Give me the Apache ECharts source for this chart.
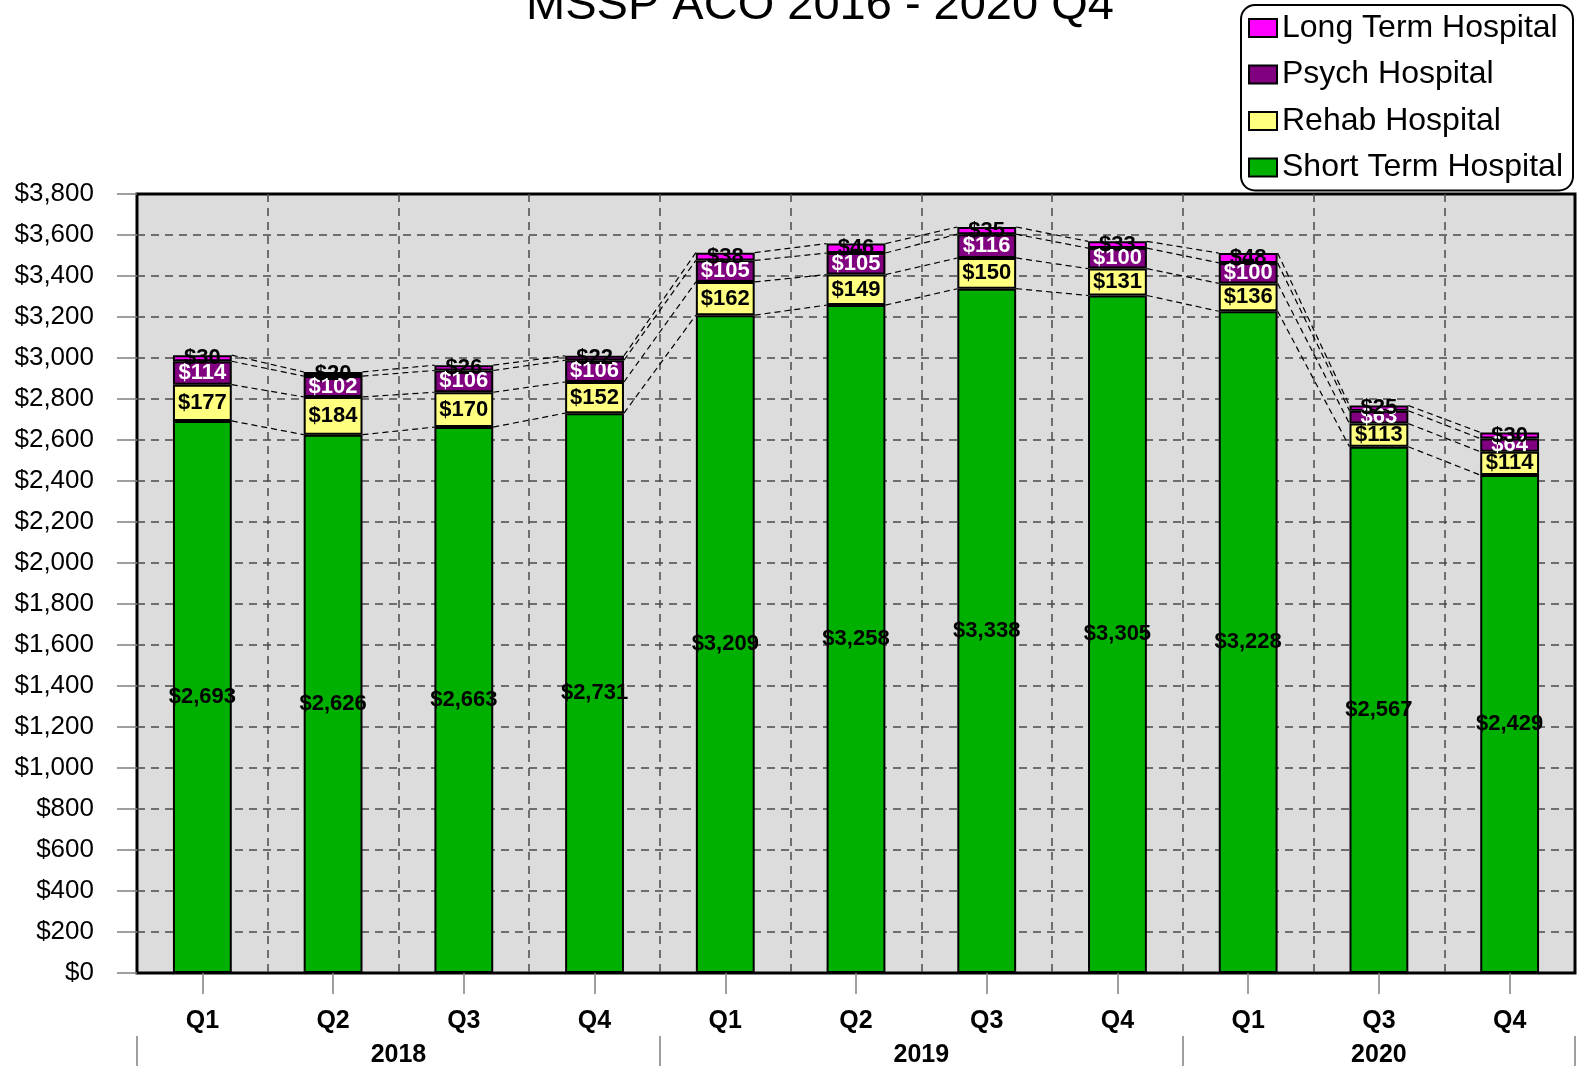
<!DOCTYPE html>
<html lang="en">
<head>
<meta charset="UTF-8">
<title>MSSP ACO 2016 - 2020 Q4</title>
<script src="https://cdn.jsdelivr.net/npm/echarts@6.0.0/dist/echarts.min.js"></script>
<style>html,body{margin:0;padding:0;background:#fff;}</style>
</head>
<body>
<div id="main" style="width:1581px;height:1068px;"></div>
<script>
// quarters on the axis, grouped by year
const quarters = ['Q1', 'Q2', 'Q3', 'Q4', 'Q1', 'Q2', 'Q3', 'Q4', 'Q1', 'Q3', 'Q4'];
const years = ['2018', '2019', '2020'];
const yearSpans = [4, 4, 3];

// dollars per stack segment
const shortTerm = [2693, 2626, 2663, 2731, 3209, 3258, 3338, 3305, 3228, 2567, 2429];
const rehab     = [177, 184, 170, 152, 162, 149, 150, 131, 136, 113, 114];
const psych     = [114, 102, 106, 106, 105, 105, 116, 100, 100, 63, 64];
const longTerm  = [30, 20, 26, 22, 38, 46, 35, 33, 48, 25, 30];

const font = 'Liberation Sans, Arial, sans-serif';
const money = v => '$' + Number(v).toLocaleString('en-US');
const barRatio = 0.45;

// running totals for the dashed connectors
const levels = [];
let run = shortTerm.map(() => 0);
[shortTerm, rehab, psych, longTerm].forEach(arr => {
  run = run.map((r, i) => r + arr[i]);
  levels.push(run.slice());
});

// year axis: ticks on group edges, labels in group middles
const yearEdges = [0];
yearSpans.forEach(s => yearEdges.push(yearEdges[yearEdges.length - 1] + s));
const yearMids = yearSpans.map((s, i) => yearEdges[i] + s / 2);

let myChart = echarts.init(document.getElementById('main'));

const segLabel = (color) => ({
  show: true,
  position: 'inside',
  color: color,
  fontFamily: font,
  fontWeight: 'bold',
  fontSize: 22,
  formatter: p => money(p.value)
});

const barSeries = (name, data, color, labelColor) => ({
  name: name,
  type: 'bar',
  stack: 'total',
  barWidth: (barRatio * 100) + '%',
  data: data,
  itemStyle: { color: color, borderColor: '#000', borderWidth: 2 },
  label: segLabel(labelColor)
});

const gridDash = { color: '#4a4a4a', width: 1.5, type: [8, 6] };

let options = {
  animation: false,
  title: {
    text: 'MSSP ACO 2016 - 2020 Q4',
    left: 815,
    top: -22,
    textAlign: 'center',
    textStyle: { fontFamily: font, fontWeight: 'normal', fontSize: 47, color: '#000' }
  },
  legend: {
    data: ['Long Term Hospital', 'Psych Hospital', 'Rehab Hospital', 'Short Term Hospital'],
    orient: 'vertical',
    left: 1241,
    top: 5,
    padding: [7, 10, 7, 7],
    itemGap: 14.5,
    itemWidth: 28,
    itemHeight: 18,
    icon: 'rect',
    selectedMode: false,
    backgroundColor: '#fff',
    borderColor: '#000',
    borderWidth: 2,
    borderRadius: 14,
    textStyle: { fontFamily: font, fontSize: 32, lineHeight: 30, color: '#000' }
  },
  grid: {
    left: 137, top: 194, right: 6, bottom: 89,
    show: true,
    backgroundColor: '#dcdcdc',
    borderColor: '#000',
    borderWidth: 3
  },
  xAxis: [{
    type: 'category',
    data: quarters,
    axisLine: { show: false },
    axisTick: { show: true, alignWithLabel: true, length: 21, lineStyle: { color: '#808080', width: 1.5 } },
    axisLabel: { margin: 36, fontFamily: font, fontWeight: 'bold', fontSize: 25, color: '#000' },
    splitLine: { show: true, interval: 0, showMinLine: false, showMaxLine: false, lineStyle: gridDash }
  }, {
    type: 'value',
    position: 'bottom',
    offset: 63,
    min: 0,
    max: yearEdges[yearEdges.length - 1],
    axisLine: { show: false },
    splitLine: { show: false },
    axisTick: { show: true, customValues: yearEdges, length: 30, lineStyle: { color: '#808080', width: 1.5 } },
    axisLabel: {
      customValues: yearMids,
      margin: 7,
      fontFamily: font, fontWeight: 'bold', fontSize: 25, color: '#000',
      formatter: v => years[yearMids.indexOf(v)] || ''
    }
  }],
  yAxis: {
    type: 'value',
    min: 0,
    max: 3800,
    interval: 200,
    axisLine: { show: false },
    axisTick: { show: true, length: 20, lineStyle: { color: '#808080', width: 1.5 } },
    axisLabel: { margin: 43, fontFamily: font, fontSize: 26, color: '#000', formatter: money },
    splitLine: { show: true, showMinLine: false, showMaxLine: false, lineStyle: gridDash }
  },
  series: [
    barSeries('Short Term Hospital', shortTerm, '#00b000', '#000'),
    barSeries('Rehab Hospital', rehab, '#ffff80', '#000'),
    barSeries('Psych Hospital', psych, '#800080', '#fff'),
    barSeries('Long Term Hospital', longTerm, '#ff00ff', '#000'),
    {
      // dashed lines from each bar's segment tops to the next bar's
      type: 'custom',
      z: 1,
      silent: true,
      data: quarters.slice(0, -1).map((q, i) => [i, levels[3][i]]),
      renderItem: (params, api) => {
        const i = api.value(0);
        const half = api.size([1, 0])[0] * barRatio / 2;
        const children = levels.map(lv => {
          const a = api.coord([i, lv[i]]);
          const b = api.coord([i + 1, lv[i + 1]]);
          return {
            type: 'line',
            shape: { x1: a[0] + half, y1: a[1], x2: b[0] - half, y2: b[1] },
            style: { stroke: '#000', lineWidth: 1.2, lineDash: [6, 4] }
          };
        });
        return { type: 'group', children: children };
      }
    }
  ]
};

myChart.setOption(options);
</script>
</body>
</html>
